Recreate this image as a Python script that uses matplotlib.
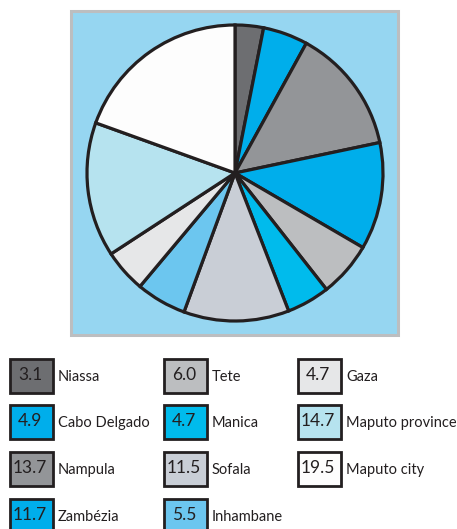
import matplotlib.pyplot as plt
from matplotlib.patches import Rectangle

# Provinces, clockwise from the top of the pie
provinces = ['Niassa', 'Cabo Delgado', 'Nampula', 'Zambézia', 'Tete', 'Manica',
             'Sofala', 'Inhambane', 'Gaza', 'Maputo province', 'Maputo city']
shares = [3.1, 4.9, 13.7, 11.7, 6.0, 4.7, 11.5, 5.5, 4.7, 14.7, 19.5]
colors = ['#6d6e71', '#00aeeb', '#939598', '#00aeeb', '#bcbec0', '#00bbec',
          '#c9ced6', '#6cc6ef', '#e6e7e8', '#b6e3ef', '#fdfdfd']
edge = '#231f20'

W, H = 457, 529
fig = plt.figure(figsize=(W / 100, H / 100), dpi=100)

# background panel
bg = fig.add_axes([0, 0, 1, 1])
bg.set_xlim(0, W)
bg.set_ylim(H, 0)
bg.axis('off')
bg.add_patch(Rectangle((71, 11), 327, 324, facecolor='#96d6f1',
                       edgecolor='#bcbec0', lw=2.2))

# pie
cx, cy, r = 235, 173, 148
ax = fig.add_axes([(cx - r) / W, 1 - (cy + r) / H, 2 * r / W, 2 * r / H])
ax.pie(shares, colors=colors, startangle=90, counterclock=False,
       wedgeprops=dict(edgecolor=edge, linewidth=2.3))
ax.set_xlim(-1, 1)
ax.set_ylim(-1, 1)
ax.set_aspect('auto')
ax.axis('off')

# legend: column-major, 4 rows per column
col_x = [10, 164, 298]
row_y = [359, 405, 452, 499]
for i, (name, val, c) in enumerate(zip(provinces, shares, colors)):
    col, row = divmod(i, 4)
    x, y = col_x[col], row_y[row]
    bg.add_patch(Rectangle((x, y), 43, 34, facecolor=c, edgecolor=edge, lw=2.0))
    bg.text(x + 20, y + 16, f'{val:.1f}', fontsize=12.5, color=edge,
            family='Lato', va='center', ha='center')
    bg.text(x + 48, y + 18, name, fontsize=10.5, color=edge,
            family='Lato', va='center', ha='left')

fig.savefig('out.png', dpi=100)
